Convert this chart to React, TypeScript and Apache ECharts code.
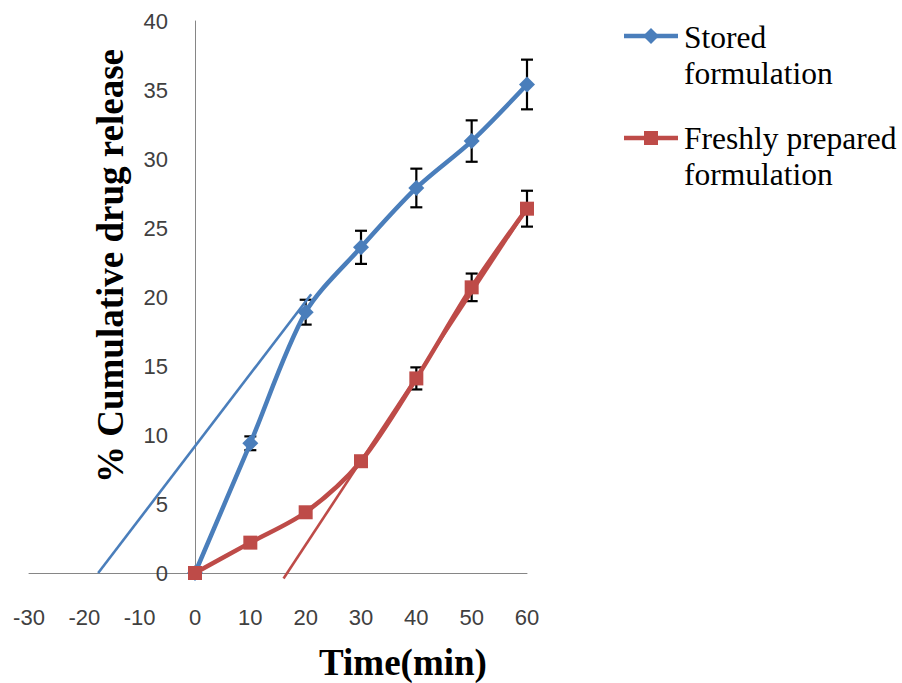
import React, { useEffect, useRef } from "react";
import * as echarts from "echarts";

const time = [0, 10, 20, 30, 40, 50, 60];
const stored = [0, 9.4, 18.9, 23.6, 27.9, 31.3, 35.4];
const storedSd = [0, 0.5, 0.9, 1.2, 1.4, 1.5, 1.8];
const fresh = [0, 2.2, 4.4, 8.1, 14.1, 20.7, 26.4];
const freshSd = [0, 0, 0, 0, 0.8, 1.0, 1.3];
const storedTrend = [[-17.5, 0], [21, 20.2]];
const freshTrend = [[16.0, -0.4], [60, 26.4]];
const seriesNames = ["Stored formulation", "Freshly prepared formulation"];
const xTickRange = { min: -30, max: 60, interval: 10 };
const yTickRange = { min: 0, max: 40, interval: 5 };

const BLUE = "#4A7EBB";
const RED = "#BE4B48";

const GRID = { left: 29, right: 375, top: 21, bottom: 110 };
const W = 902;
const H = 683;

export default function App() {
  const ref = useRef<HTMLDivElement>(null);
  useEffect(() => {
    if (!ref.current) return;
    const chart = echarts.init(ref.current, null, { renderer: "svg" });
    const errData = (vals: number[], sd: number[]) =>
      time.map((t, i) => [t, vals[i] - sd[i], vals[i] + sd[i]]).filter((d, i) => sd[i] > 0);
    const renderErr = (params: any, api: any) => {
      const x = api.value(0);
      const top = api.coord([x, api.value(2)]);
      const bot = api.coord([x, api.value(1)]);
      const w = 6;
      const st = { stroke: "#000", lineWidth: 2.2 };
      return {
        type: "group",
        children: [
          { type: "line", shape: { x1: top[0], y1: top[1], x2: bot[0], y2: bot[1] }, style: st },
          { type: "line", shape: { x1: top[0] - w, y1: top[1], x2: top[0] + w, y2: top[1] }, style: st },
          { type: "line", shape: { x1: bot[0] - w, y1: bot[1], x2: bot[0] + w, y2: bot[1] }, style: st },
        ],
      };
    };
    const serif = "'Liberation Serif', 'Times New Roman', serif";
    const gridW = W - GRID.left - GRID.right;
    const yOffset = -gridW * (0 - xTickRange.min) / (xTickRange.max - xTickRange.min);
    chart.setOption({
      animation: false,
      grid: { ...GRID, containLabel: false, outerBoundsMode: "none" },
      xAxis: {
        type: "value",
        min: xTickRange.min,
        max: xTickRange.max,
        interval: xTickRange.interval,
        axisLine: { onZero: true, lineStyle: { color: "#868686", width: 1 } },
        axisTick: { show: false },
        splitLine: { show: false },
        axisLabel: { fontFamily: "'Liberation Sans', Arial, sans-serif", fontSize: 22, color: "#404040", margin: 33 },
      },
      yAxis: {
        type: "value",
        min: yTickRange.min,
        max: yTickRange.max,
        interval: yTickRange.interval,
        position: "left",
        offset: yOffset,
        axisLine: { show: true, onZero: false, lineStyle: { color: "#868686", width: 1 } },
        axisTick: { show: false },
        splitLine: { show: false },
        axisLabel: { fontFamily: "'Liberation Sans', Arial, sans-serif", fontSize: 22, color: "#404040", margin: 27 },
      },
      series: [
        {
          type: "custom",
          renderItem: renderErr,
          data: errData(stored, storedSd),
          encode: { x: 0, y: [1, 2] },
          z: 1,
        },
        {
          type: "custom",
          renderItem: renderErr,
          data: errData(fresh, freshSd),
          encode: { x: 0, y: [1, 2] },
          z: 1,
        },
        {
          type: "line",
          data: storedTrend,
          showSymbol: false,
          lineStyle: { color: BLUE, width: 2.6 },
          clip: false,
          z: 2,
        },
        {
          type: "line",
          data: freshTrend,
          showSymbol: false,
          lineStyle: { color: RED, width: 2.6 },
          clip: false,
          z: 2,
        },
        {
          name: seriesNames[0],
          type: "line",
          data: time.map((t, i) => [t, stored[i]]),
          smooth: 0.3,
          symbol: "diamond",
          symbolSize: 16,
          itemStyle: { color: BLUE },
          lineStyle: { color: BLUE, width: 4.5 },
          z: 3,
        },
        {
          name: seriesNames[1],
          type: "line",
          data: time.map((t, i) => [t, fresh[i]]),
          smooth: 0.3,
          symbol: "rect",
          symbolSize: 14,
          itemStyle: { color: RED },
          lineStyle: { color: RED, width: 4.5 },
          z: 4,
        },
      ],
      graphic: [
        {
          type: "text",
          x: 110,
          y: 266,
          rotation: Math.PI / 2,
          style: {
            text: "% Cumulative drug release",
            font: `bold 37px ${serif}`,
            fill: "#000",
            align: "center",
            verticalAlign: "middle",
          },
        },
        {
          type: "text",
          x: 403,
          y: 662,
          style: {
            text: "Time(min)",
            font: `bold 37px ${serif}`,
            fill: "#000",
            align: "center",
            verticalAlign: "middle",
          },
        },
        { type: "line", shape: { x1: 624, y1: 36, x2: 678, y2: 36 }, style: { stroke: BLUE, lineWidth: 4.5 } },
        { type: "polygon", shape: { points: [[651, 28], [659, 36], [651, 44], [643, 36]] }, style: { fill: BLUE } },
        { type: "text", x: 684, y: 37, style: { text: "Stored", font: `31.5px ${serif}`, fill: "#000", verticalAlign: "middle" } },
        { type: "text", x: 684, y: 73, style: { text: "formulation", font: `31.5px ${serif}`, fill: "#000", verticalAlign: "middle" } },
        { type: "line", shape: { x1: 624, y1: 138, x2: 678, y2: 138 }, style: { stroke: RED, lineWidth: 4.5 } },
        { type: "rect", shape: { x: 644, y: 131, width: 14, height: 14 }, style: { fill: RED } },
        { type: "text", x: 684, y: 138, style: { text: "Freshly prepared", font: `31.5px ${serif}`, fill: "#000", verticalAlign: "middle" } },
        { type: "text", x: 684, y: 174, style: { text: "formulation", font: `31.5px ${serif}`, fill: "#000", verticalAlign: "middle" } },
      ],
    });
    return () => chart.dispose();
  }, []);
  return <div ref={ref} style={{ position: "absolute", left: 0, top: 0, width: W, height: H }} />;
}
